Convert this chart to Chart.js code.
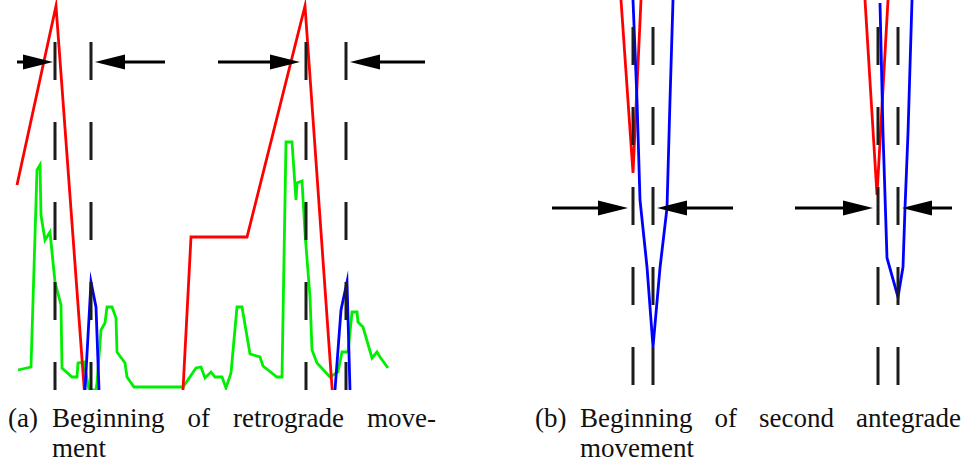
<!DOCTYPE html>
<html>
<head>
<meta charset="utf-8">
<script src="https://cdn.jsdelivr.net/npm/chart.js@4.4.1/dist/chart.umd.min.js"></script>
<style>
  body{ margin:0; background:#fff; width:962px; height:463px; overflow:hidden; position:relative; }
  canvas{ position:absolute; top:0; }
  #cvA{ left:0; } #cvB{ left:481px; }
  .cap{ position:absolute; font-family:"Liberation Serif", serif; font-size:27px; line-height:28px; color:#111; white-space:nowrap; }
  .row{ display:flex; justify-content:space-between; }
</style>
</head>
<body>
<canvas id="cvA" width="481" height="390"></canvas>
<canvas id="cvB" width="481" height="390"></canvas>

<div class="cap" style="left:8px; top:404px;">(a)</div>
<div class="cap row" style="left:52px; top:404px; width:384px;"><span>Beginning</span><span>of</span><span>retrograde</span><span>move-</span></div>
<div class="cap" style="left:52px; top:434px;">ment</div>

<div class="cap" style="left:535px; top:404px;">(b)</div>
<div class="cap row" style="left:580px; top:404px; width:381px;"><span>Beginning</span><span>of</span><span>second</span><span>antegrade</span></div>
<div class="cap" style="left:580px; top:434px;">movement</div>

<script>
// panel (a): time / signal traces
const redA = [[17,205],[56,384],[84.3,0],[120,null],[183,0],[191,153],[247,153],[305,384],[332.2,0]];
const blueA = [[85,0],[91,108],[96,83],[99,0],[200,null],[335,0],[341,80],[347,108],[350,0]];
const greenA = [[18,20],[31,23],[37,220],[40,225],[41,175],[45,150],[50,158],[55,108],[61,85],[62,22],[72,13],[77,13],[78,27],[84,28],[89,0],[96,0],
  [97,7],[101,60],[105,67],[107,83],[112,83],[116,72],[117,38],[125,27],[127,13],[134,3],[150,3],[170,3],[183,3],[196,22],[201,23],[205,12],[211,18],
  [215,13],[222,13],[226,2],[231,17],[237,83],[242,83],[250,36],[260,33],[263,24],[277,13],[282,13],[286,248],[292,248],[296,190],[297,207],[302,209],
  [305,157],[310,93],[312,40],[317,27],[330,13],[338,18],[342,38],[348,38],[352,78],[357,78],[358,68],[363,63],[372,32],[377,38],[380,33],[388,22]];
const marksA = [55, 91, 306, 346];
const arrowsA = [[17,53,328],[165,95,328],[218,300,328],[425,350,328]];

// panel (b)
const redB = [[621,390],[633,217],[641,390],[700,null],[865,390],[877,195],[888,390]];
const blueB = [[633,390],[637,290],[640,190],[647,123],[653,43],[660,122],[667,182],[670,290],[673,390],[750,null],
  [880,387],[883,257],[887,132],[898,93],[903,123],[905,182],[908,257],[912,390]];
const marksB = [633, 653, 878, 898];
const arrowsB = [[552,628,182],[733,657,182],[795,873,182],[952,902,182]];

const pts = arr => arr.map(p => ({x:p[0], y:p[1]}));

const arrowPlugin = {
  id:'arrows',
  afterDatasetsDraw(chart, args, opts){
    const ctx = chart.ctx, xs = chart.scales.x, ys = chart.scales.y;
    ctx.save();
    ctx.strokeStyle = '#000'; ctx.fillStyle = '#000'; ctx.lineWidth = 3;
    (opts.list||[]).forEach(a=>{
      const x1 = xs.getPixelForValue(a[0]), xt = xs.getPixelForValue(a[1]), y = ys.getPixelForValue(a[2]);
      const dir = xt > x1 ? 1 : -1, hb = xt - dir*30;
      ctx.beginPath(); ctx.moveTo(x1, y); ctx.lineTo(hb, y); ctx.stroke();
      ctx.beginPath(); ctx.moveTo(xt, y); ctx.lineTo(hb, y-7.5); ctx.lineTo(hb, y+7.5); ctx.closePath(); ctx.fill();
    });
    ctx.restore();
  }
};

function trace(data, color){
  return { data: pts(data), borderColor: color, borderWidth: 2.8, pointRadius: 0, tension: 0, spanGaps: false, fill: false };
}
function mark(x, offset){
  return { data: [{x, y:390},{x, y:0}], borderColor:'#1c1c1c', borderWidth:3, borderDash:[38,42], borderDashOffset: offset,
    borderCapStyle:'butt', pointRadius:0, fill:false };
}

function panel(id, xmin, xmax, traces, marks, dashOffset, arrows){
  const ds = marks.map(m => mark(m, dashOffset)).concat(traces);
  return new Chart(document.getElementById(id), {
    type:'line',
    data:{ datasets: ds },
    options:{
      responsive:false, animation:false, devicePixelRatio:1,
      layout:{ padding:0 },
      parsing:false,
      scales:{
        x:{ type:'linear', min:xmin, max:xmax, display:false },
        y:{ type:'linear', min:0, max:390, display:false }
      },
      plugins:{ legend:{display:false}, tooltip:{enabled:false}, arrows:{ list: arrows } }
    },
    plugins:[arrowPlugin]
  });
}

panel('cvA', 0, 481, [trace(blueA,'#0000ff'), trace(redA,'#ff0000'), trace(greenA,'#00ee00')], marksA, 38, arrowsA);
panel('cvB', 481, 962, [trace(blueB,'#0000ff'), trace(redB,'#ff0000')], marksB, 53, arrowsB);
</script>
</body>
</html>
